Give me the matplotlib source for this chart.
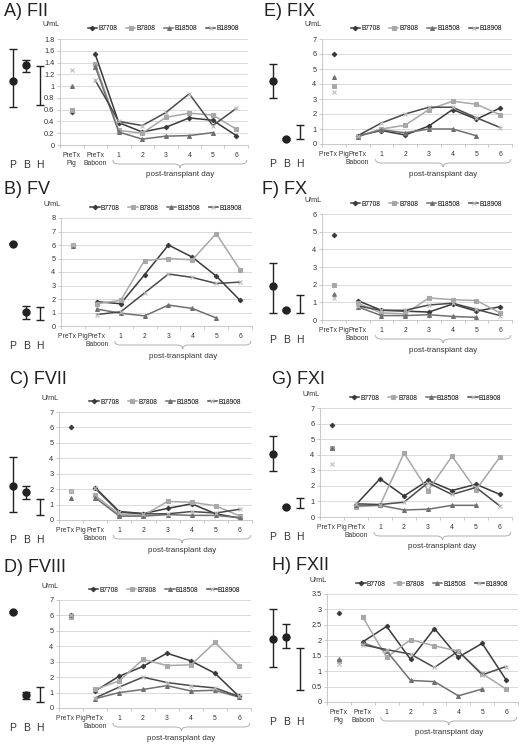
import numpy as np
import matplotlib.pyplot as plt
from matplotlib.path import Path
from matplotlib.patches import PathPatch
from matplotlib.transforms import blended_transform_factory, ScaledTranslation

plt.rcParams['font.family'] = ['Liberation Sans', 'DejaVu Sans']

nan = np.nan
animals = ["B7708", "B7808", "B18508", "B18908"]
days = ["1", "2", "3", "4", "5", "6"]

# ---- data (U/mL) ----
# lines: PreTx Baboon, day 1..6 ; pig: PreTx Pig value per animal
# p/b: mean, low, high ; h: low, high
fii_pig = [0.56, 0.60, 1.00, 1.28]
fii_lines = [[1.54, 0.38, 0.22, 0.30, 0.46, 0.42, 0.16],
             [1.38, 0.25, 0.20, 0.47, 0.54, 0.51, 0.27],
             [1.33, 0.22, 0.10, 0.15, 0.16, 0.21, nan],
             [1.10, 0.40, 0.33, 0.55, 0.87, 0.33, 0.62]]
fii_p = [1.09, 0.64, 1.63]
fii_b = [1.35, 1.24, 1.44]
fii_h = [0.68, 1.34]
fii_yticks = [0, 0.2, 0.4, 0.6, 0.8, 1.0, 1.2, 1.4, 1.6, 1.8]

fv_pig = [5.95, 5.98, 5.95, 6.0]
fv_lines = [[1.80, 1.65, 3.80, 6.00, 5.10, 3.70, 1.90],
            [1.65, 1.90, 4.85, 5.00, 4.90, 6.85, 4.15],
            [1.25, 0.95, 0.75, 1.55, 1.30, 0.60, nan],
            [0.85, 1.05, 2.45, 3.85, 3.60, 3.15, 3.25]]
fv_p = [6.10, 6.05, 6.15]
fv_b = [1.04, 0.54, 1.51]
fv_h = [0.42, 1.39]
fv_yticks = [0, 1, 2, 3, 4, 5, 6, 7, 8]

fvii_pig = [6.05, 1.90, 1.45, 1.85]
fvii_lines = [[2.10, 0.55, 0.42, 0.75, 1.05, 0.40, 0.12],
              [1.60, 0.35, 0.30, 1.20, 1.15, 0.92, 0.25],
              [1.45, 0.25, 0.25, 0.35, 0.30, 0.30, 0.15],
              [2.05, 0.50, 0.40, 0.40, 0.55, 0.45, 0.70]]
fvii_p = [2.21, 0.52, 4.06]
fvii_b = [1.80, 1.39, 2.21]
fvii_h = [0.35, 1.39]
fvii_yticks = [0, 1, 2, 3, 4, 5, 6, 7]

fviii_pig = [6.00, 5.90, 6.05, 6.00]
fviii_lines = [[1.10, 2.05, 2.70, 3.55, 3.05, 2.25, 0.75],
               [1.20, 1.75, 3.15, 2.75, 2.80, 4.25, 2.70],
               [0.60, 1.00, 1.20, 1.45, 1.10, 1.15, 0.70],
               [0.65, 1.35, 2.00, 1.65, 1.45, 1.30, 0.75]]
fviii_p = [6.22, 6.17, 6.27]
fviii_b = [0.82, 0.56, 1.06]
fviii_h = [0.37, 1.39]
fviii_yticks = [0, 1, 2, 3, 4, 5, 6, 7]

fix_pig = [6.00, 3.90, 4.45, 3.50]
fix_lines = [[0.55, 0.90, 0.60, 1.20, 2.30, 1.65, 2.40],
             [0.50, 1.00, 1.25, 2.30, 2.85, 2.65, 1.95],
             [0.50, 0.95, 0.75, 1.00, 1.00, 0.55, nan],
             [0.55, 1.40, 2.00, 2.45, 2.45, 1.75, 1.10]]
fix_p = [4.20, 3.05, 5.35]
fix_b = [0.35, 0.30, 0.40]
fix_h = [0.35, 1.30]
fix_yticks = [0, 1, 2, 3, 4, 5, 6, 7]

fx_pig = [4.80, 2.00, 1.45, 1.25]
fx_lines = [[1.10, 0.55, 0.50, 0.45, 0.90, 0.50, 0.75],
            [0.95, 0.40, 0.35, 1.25, 1.15, 1.10, 0.40],
            [0.75, 0.25, 0.25, 0.30, 0.20, 0.15, nan],
            [0.80, 0.55, 0.55, 0.85, 0.95, 0.60, 0.25]]
fx_p = [1.93, 0.40, 3.25]
fx_b = [0.55, 0.50, 0.60]
fx_h = [0.40, 1.40]
fx_yticks = [0, 1, 2, 3, 4, 5, 6]

fxi_pig = [5.90, 4.45, 4.40, 3.40]
fxi_lines = [[0.80, 2.45, 1.35, 2.35, 1.70, 2.10, 1.45],
             [0.65, 0.75, 4.10, 1.70, 3.90, 1.75, 3.85],
             [0.75, 0.75, 0.45, 0.50, 0.75, 0.75, nan],
             [0.85, 0.80, 0.95, 2.20, 1.45, 1.90, 0.70]]
fxi_p = [4.05, 2.95, 5.20]
fxi_b = [0.65, 0.60, 0.70]
fxi_h = [0.60, 1.20]
fxi_yticks = [0, 1, 2, 3, 4, 5, 6, 7]

fxii_pig = [2.88, 1.32, 1.38, 1.22]
fxii_lines = [[1.95, 2.45, 1.38, 2.38, 1.45, 1.90, 0.72],
              [2.75, 1.45, 2.02, 1.82, 1.65, 0.92, 0.42],
              [1.92, 1.65, 0.70, 0.66, 0.20, 0.42, nan],
              [1.85, 1.70, 1.55, 1.12, 1.65, 0.88, 1.15]]
fxii_p = [2.03, 1.12, 3.02]
fxii_b = [2.10, 1.75, 2.53]
fxii_h = [0.40, 1.75]
fxii_yticks = [0, 0.5, 1.0, 1.5, 2.0, 2.5, 3.0, 3.5]

# ---- styles ----
colors = ['#3a3a3a', '#a8a8a8', '#707070', '#4a4a4a']
markers = ['D', 's', '^', 'x']
msizes = [2.3, 2.8, 2.8, 3.0]
medge = ['#3a3a3a', '#a8a8a8', '#707070', '#bdbdbd']

W, H = 520, 744
fig = plt.figure(figsize=(W / 100, H / 100), dpi=100)


def frac(l, t, r, b):
    return [l / W, 1 - b / H, (r - l) / W, (b - t) / H]


def brace(ax, x0, x1, top_px, h_px):
    tr = blended_transform_factory(ax.transData, fig.transFigure)
    yt = 1 - top_px / H
    ym = 1 - (top_px + h_px / 2) / H
    yb = 1 - (top_px + h_px) / H
    xm = (x0 + x1) / 2
    r = 0.25
    verts = [(x0, yt), (x0, ym), (x0 + r, ym), (xm - r, ym), (xm, ym), (xm, yb),
             (xm, ym), (xm + r, ym), (x1 - r, ym), (x1, ym), (x1, yt)]
    codes = [Path.MOVETO, Path.CURVE3, Path.CURVE3, Path.LINETO, Path.CURVE3, Path.CURVE3,
             Path.CURVE3, Path.CURVE3, Path.LINETO, Path.CURVE3, Path.CURVE3]
    ax.add_patch(PathPatch(Path(verts, codes), fc='none', ec='#b0b0b0', lw=0.7,
                           transform=tr, clip_on=False))
    ax.text(xm, 1 - (top_px + h_px + 7) / H, "post-transplant day", transform=tr,
            ha='center', va='center', fontsize=5.8, color='#333333')


def panel(rect, colx, title, title_xy, pig, lines, p, b, h, yticks, pig_label):
    l, t, r, bt = rect
    ax = fig.add_axes(frac(l, t, r, bt))
    xs = np.arange(1, 8)
    for i in range(4):
        ax.plot(xs, lines[i], color=colors[i], lw=1.1, marker=markers[i], ms=msizes[i],
                mec=medge[i], mfc=colors[i], mew=0.8, label=animals[i])
        ax.plot([0], [pig[i]], ls='none', marker=markers[i], ms=msizes[i],
                mec=medge[i], mfc=colors[i], mew=0.8)
    ax.set_xlim(-0.5, 7.5)
    ax.set_ylim(yticks[0], yticks[-1])
    ax.set_yticks(yticks)
    ax.set_yticklabels([f"{v:g}" for v in yticks])
    ax.set_xticks(range(8))
    ax.set_xticklabels([pig_label, "PreTx\nBaboon"] + days)
    # nudge the pig / baboon labels apart a little
    lbls = ax.get_xticklabels()
    lbls[0].set_transform(lbls[0].get_transform() + ScaledTranslation(-0.03, 0, fig.dpi_scale_trans))
    lbls[1].set_transform(lbls[1].get_transform() + ScaledTranslation(0.02, 0, fig.dpi_scale_trans))
    ax.set_xticks(np.arange(-0.5, 8, 1), minor=True)
    ax.tick_params(axis='x', which='major', length=0, pad=5, labelsize=4.9, colors='#333333')
    ax.tick_params(axis='x', which='minor', length=2.5, color='#c0c0c0', width=0.6)
    ax.tick_params(axis='y', length=2, color='#c0c0c0', width=0.6, pad=2, labelsize=5.3,
                   labelcolor='#333333')
    ax.grid(axis='y', color='#d4d4d4', lw=0.6)
    ax.set_axisbelow(True)
    for s in ['top', 'right']:
        ax.spines[s].set_visible(False)
    for s in ['left', 'bottom']:
        ax.spines[s].set_color('#c0c0c0')
        ax.spines[s].set_linewidth(0.6)
    hp = bt - t
    ax.legend(loc='center', bbox_to_anchor=(0.55, 1 + 10 / hp), ncol=4, frameon=False,
              fontsize=4.8, handlelength=1.4, handletextpad=0.2, columnspacing=1.3,
              borderaxespad=0, borderpad=0)
    ax.text(0.0, 1 + 14 / hp, "U/mL", transform=ax.transAxes, ha='right', va='center',
            fontsize=5.2, color='#333333')
    brace(ax, 1.75, 7.45, bt + 15, 8)

    # P / B / H reference ranges
    sx = fig.add_axes(frac(colx + 2, t, colx + 48, bt), sharey=ax)
    sx.errorbar([0, 1], [p[0], b[0]],
                yerr=[[p[0] - p[1], b[0] - b[1]], [p[2] - p[0], b[2] - b[0]]],
                fmt='o', color='#222222', ms=5, capsize=3.2, elinewidth=1.0, capthick=1.0)
    sx.errorbar([2], [(h[0] + h[1]) / 2], yerr=[(h[1] - h[0]) / 2], fmt='none',
                ecolor='#222222', capsize=3.2, elinewidth=1.0, capthick=1.0)
    sx.set_xlim(-0.8, 2.6)
    sx.set_xticks([0, 1, 2])
    sx.set_xticklabels(["P", "B", "H"])
    sx.tick_params(axis='x', length=0, pad=11, labelsize=7.5, colors='#333333')
    sx.tick_params(axis='y', left=False, labelleft=False)
    for s in sx.spines.values():
        s.set_visible(False)
    sx.patch.set_alpha(0)

    fig.text(title_xy[0] / W, 1 - title_xy[1] / H, title, fontsize=13, ha='left',
             va='center', color='#222222')


panel((60, 39, 248, 145), 0, "A) FII", (4, 12), fii_pig, fii_lines, fii_p, fii_b, fii_h,
      fii_yticks, "PreTx\nPig")
panel((61, 218, 252, 326), 0, "B) FV", (4, 190), fv_pig, fv_lines, fv_p, fv_b, fv_h,
      fv_yticks, "PreTx Pig")
panel((59, 412, 252, 520), 0, "C) FVII", (10, 380), fvii_pig, fvii_lines, fvii_p, fvii_b,
      fvii_h, fvii_yticks, "PreTx Pig")
panel((59, 600, 251, 708), 0, "D) FVIII", (4, 567), fviii_pig, fviii_lines, fviii_p, fviii_b,
      fviii_h, fviii_yticks, "PreTx Pig")
panel((322, 39, 512, 144), 260, "E) FIX", (264, 12), fix_pig, fix_lines, fix_p, fix_b, fix_h,
      fix_yticks, "PreTx Pig")
panel((322, 214, 512, 320), 260, "F) FX", (262, 189), fx_pig, fx_lines, fx_p, fx_b, fx_h,
      fx_yticks, "PreTx Pig")
panel((320, 408, 512, 517), 260, "G) FXI", (272, 379), fxi_pig, fxi_lines, fxi_p, fxi_b,
      fxi_h, fxi_yticks, "PreTx Pig")
panel((327, 594, 518, 702), 260, "H) FXII", (272, 566), fxii_pig, fxii_lines, fxii_p, fxii_b,
      fxii_h, fxii_yticks, "PreTx\nPig")

fig.savefig("out.png", dpi=100)
